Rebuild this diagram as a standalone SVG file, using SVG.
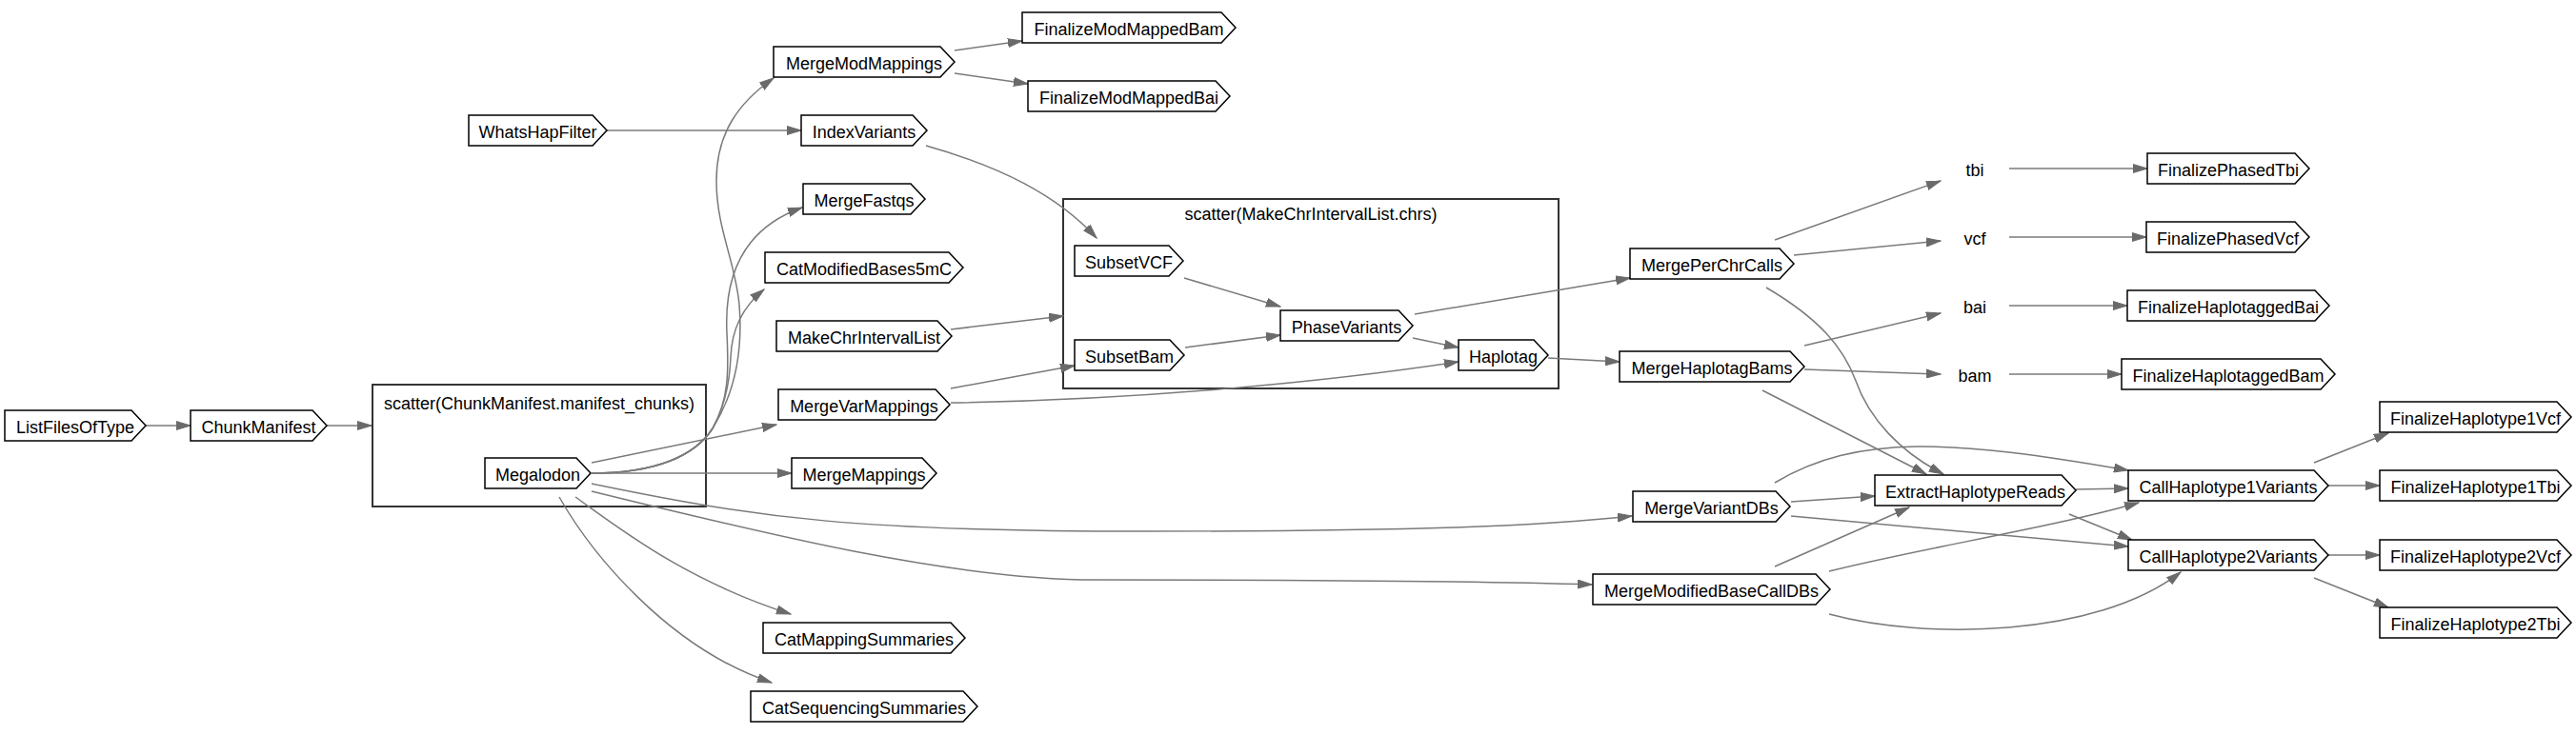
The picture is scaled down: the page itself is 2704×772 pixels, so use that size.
<svg xmlns="http://www.w3.org/2000/svg" width="2704" height="772" viewBox="0 0 2704 772">
<style>
.n polygon{fill:#fff;stroke:#000;stroke-width:1.5}
text{font-family:"Liberation Sans",Arial,Helvetica,sans-serif;font-size:18px;fill:#000;text-anchor:middle}
.c rect{fill:none;stroke:#333;stroke-width:2}
#edges path{fill:none;stroke:#7a7a7a;stroke-width:1.5;marker-end:url(#ah)}
</style>
<defs>
<marker id="ah" markerUnits="userSpaceOnUse" viewBox="0 0 16 10" refX="15" refY="5" markerWidth="16" markerHeight="10" orient="auto">
<path d="M0,0.5 L15,5 L0,9.5 Z" fill="#6a6a6a" stroke="#6a6a6a" stroke-width="1"/>
</marker>
</defs>
<rect width="2704" height="772" fill="#fff"/>
<g id="cluster_manifest" class="c"><rect x="391" y="404" width="350" height="128"/><text x="566" y="430">scatter(ChunkManifest.manifest_chunks)</text></g>
<g id="cluster_chrs" class="c"><rect x="1116" y="209" width="520" height="199"/><text x="1376" y="231">scatter(MakeChrIntervalList.chrs)</text></g>
<g id="edges">
<path d="M153,447 L200,447"/>
<path d="M343,447 L390,447"/>
<path d="M637,137 L841,137"/>
<path d="M621,497 C690,497 730,478 748,450 C770,415 780,370 776,320 C772,275 752,240 752,190 C752,140 775,108 812,82"/>
<path d="M621,497 C690,497 730,478 748,450 C765,420 765,390 763,350 C760,290 780,240 842,218"/>
<path d="M621,497 C690,497 730,478 748,450 C762,425 766,400 767,375 C768,345 780,322 802,304"/>
<path d="M621,486 L815,446"/>
<path d="M621,497 L831,497"/>
<path d="M621,508 C800,545 900,558 1200,558 C1500,558 1620,552 1713,542"/>
<path d="M621,516 C800,560 1000,609 1150,609 C1400,609 1550,610 1671,614"/>
<path d="M604,522 C650,555 720,610 830,645"/>
<path d="M587,522 C620,580 700,680 810,717"/>
<path d="M1002,53 L1073,43"/>
<path d="M1002,77 L1079,88"/>
<path d="M972,153 C1050,175 1110,205 1151,250"/>
<path d="M998,346 L1116,332"/>
<path d="M998,408 L1128,384"/>
<path d="M998,423 C1200,420 1400,400 1531,380"/>
<path d="M1243,292 L1344,322"/>
<path d="M1244,365 L1344,352"/>
<path d="M1483,355 L1531,365"/>
<path d="M1485,330 L1711,292"/>
<path d="M1625,376 L1700,380"/>
<path d="M1863,252 L2037,190"/>
<path d="M1883,268 L2037,253"/>
<path d="M1854,302 C1910,335 1935,365 1948,400 C1962,440 1995,475 2040,498"/>
<path d="M1894,363 L2037,329"/>
<path d="M1894,388 L2037,393"/>
<path d="M1850,410 L2022,498"/>
<path d="M2109,177 L2254,177"/>
<path d="M2109,249 L2253,249"/>
<path d="M2109,321 L2233,321"/>
<path d="M2109,393 L2227,393"/>
<path d="M1863,507 C1950,455 2050,462 2234,494"/>
<path d="M1880,527 L1968,521"/>
<path d="M1880,542 L2234,574"/>
<path d="M1863,595 L2004,533"/>
<path d="M1920,600 C2020,575 2150,555 2245,528"/>
<path d="M1920,645 C2020,672 2200,670 2289,601"/>
<path d="M2179,514 L2234,513"/>
<path d="M2172,540 L2238,567"/>
<path d="M2429,486 L2507,455"/>
<path d="M2444,510 L2498,510"/>
<path d="M2444,583 L2498,583"/>
<path d="M2429,607 L2507,638"/>
</g>
<g id="ListFilesOfType" class="n"><polygon points="5,431 138,431 153,447 138,463 5,463"/><text x="79" y="455">ListFilesOfType</text></g>
<g id="ChunkManifest" class="n"><polygon points="200,431 328,431 343,447 328,463 200,463"/><text x="271.5" y="455">ChunkManifest</text></g>
<g id="Megalodon" class="n"><polygon points="509,481 605,481 620,497 605,513 509,513"/><text x="564.5" y="505">Megalodon</text></g>
<g id="WhatsHapFilter" class="n"><polygon points="492,121 622,121 637,137 622,153 492,153"/><text x="564.5" y="145">WhatsHapFilter</text></g>
<g id="IndexVariants" class="n"><polygon points="841,121 958,121 973,137 958,153 841,153"/><text x="907" y="145">IndexVariants</text></g>
<g id="MergeModMappings" class="n"><polygon points="812,49 987,49 1002,65 987,81 812,81"/><text x="907" y="73">MergeModMappings</text></g>
<g id="FinalizeModMappedBam" class="n"><polygon points="1073,13 1282,13 1297,29 1282,45 1073,45"/><text x="1185" y="37">FinalizeModMappedBam</text></g>
<g id="FinalizeModMappedBai" class="n"><polygon points="1079,85 1276,85 1291,101 1276,117 1079,117"/><text x="1185" y="109">FinalizeModMappedBai</text></g>
<g id="MergeFastqs" class="n"><polygon points="843,193 956,193 971,209 956,225 843,225"/><text x="907" y="217">MergeFastqs</text></g>
<g id="CatModifiedBases5mC" class="n"><polygon points="803,265 996,265 1011,281 996,297 803,297"/><text x="907" y="289">CatModifiedBases5mC</text></g>
<g id="MakeChrIntervalList" class="n"><polygon points="815,337 984,337 999,353 984,369 815,369"/><text x="907" y="361">MakeChrIntervalList</text></g>
<g id="MergeVarMappings" class="n"><polygon points="817,409 982,409 997,425 982,441 817,441"/><text x="907" y="433">MergeVarMappings</text></g>
<g id="MergeMappings" class="n"><polygon points="831,481 968,481 983,497 968,513 831,513"/><text x="907" y="505">MergeMappings</text></g>
<g id="CatMappingSummaries" class="n"><polygon points="801,654 998,654 1013,670 998,686 801,686"/><text x="907" y="678">CatMappingSummaries</text></g>
<g id="CatSequencingSummaries" class="n"><polygon points="788,726 1011,726 1026,742 1011,758 788,758"/><text x="907" y="750">CatSequencingSummaries</text></g>
<g id="SubsetVCF" class="n"><polygon points="1128,258 1227,258 1242,274 1227,290 1128,290"/><text x="1185" y="282">SubsetVCF</text></g>
<g id="SubsetBam" class="n"><polygon points="1128,357 1228,357 1243,373 1228,389 1128,389"/><text x="1185.5" y="381">SubsetBam</text></g>
<g id="PhaseVariants" class="n"><polygon points="1344,326 1468,326 1483,342 1468,358 1344,358"/><text x="1413.5" y="350">PhaseVariants</text></g>
<g id="Haplotag" class="n"><polygon points="1531,357 1610,357 1625,373 1610,389 1531,389"/><text x="1578" y="381">Haplotag</text></g>
<g id="MergePerChrCalls" class="n"><polygon points="1711,261 1868,261 1883,277 1868,293 1711,293"/><text x="1797" y="285">MergePerChrCalls</text></g>
<g id="MergeHaplotagBams" class="n"><polygon points="1700,369 1879,369 1894,385 1879,401 1700,401"/><text x="1797" y="393">MergeHaplotagBams</text></g>
<g id="tbi"><text x="2073" y="185">tbi</text></g>
<g id="vcf"><text x="2073" y="257">vcf</text></g>
<g id="bai"><text x="2073" y="329">bai</text></g>
<g id="bam"><text x="2073" y="401">bam</text></g>
<g id="FinalizePhasedTbi" class="n"><polygon points="2254,161 2409,161 2424,177 2409,193 2254,193"/><text x="2339" y="185">FinalizePhasedTbi</text></g>
<g id="FinalizePhasedVcf" class="n"><polygon points="2253,233 2409,233 2424,249 2409,265 2253,265"/><text x="2338.5" y="257">FinalizePhasedVcf</text></g>
<g id="FinalizeHaplotaggedBai" class="n"><polygon points="2233,305 2430,305 2445,321 2430,337 2233,337"/><text x="2339" y="329">FinalizeHaplotaggedBai</text></g>
<g id="FinalizeHaplotaggedBam" class="n"><polygon points="2227,377 2436,377 2451,393 2436,409 2227,409"/><text x="2339" y="401">FinalizeHaplotaggedBam</text></g>
<g id="MergeVariantDBs" class="n"><polygon points="1714,516 1864,516 1879,532 1864,548 1714,548"/><text x="1796.5" y="540">MergeVariantDBs</text></g>
<g id="MergeModifiedBaseCallDBs" class="n"><polygon points="1672,603 1906,603 1921,619 1906,635 1672,635"/><text x="1796.5" y="627">MergeModifiedBaseCallDBs</text></g>
<g id="ExtractHaplotypeReads" class="n"><polygon points="1968,499 2164,499 2179,515 2164,531 1968,531"/><text x="2073.5" y="523">ExtractHaplotypeReads</text></g>
<g id="CallHaplotype1Variants" class="n"><polygon points="2234,494 2429,494 2444,510 2429,526 2234,526"/><text x="2339" y="518">CallHaplotype1Variants</text></g>
<g id="CallHaplotype2Variants" class="n"><polygon points="2234,567 2429,567 2444,583 2429,599 2234,599"/><text x="2339" y="591">CallHaplotype2Variants</text></g>
<g id="FinalizeHaplotype1Vcf" class="n"><polygon points="2498,422 2684,422 2699,438 2684,454 2498,454"/><text x="2598.5" y="446">FinalizeHaplotype1Vcf</text></g>
<g id="FinalizeHaplotype1Tbi" class="n"><polygon points="2498,494 2684,494 2699,510 2684,526 2498,526"/><text x="2598.5" y="518">FinalizeHaplotype1Tbi</text></g>
<g id="FinalizeHaplotype2Vcf" class="n"><polygon points="2498,567 2684,567 2699,583 2684,599 2498,599"/><text x="2598.5" y="591">FinalizeHaplotype2Vcf</text></g>
<g id="FinalizeHaplotype2Tbi" class="n"><polygon points="2498,638 2684,638 2699,654 2684,670 2498,670"/><text x="2598.5" y="662">FinalizeHaplotype2Tbi</text></g>
</svg>
